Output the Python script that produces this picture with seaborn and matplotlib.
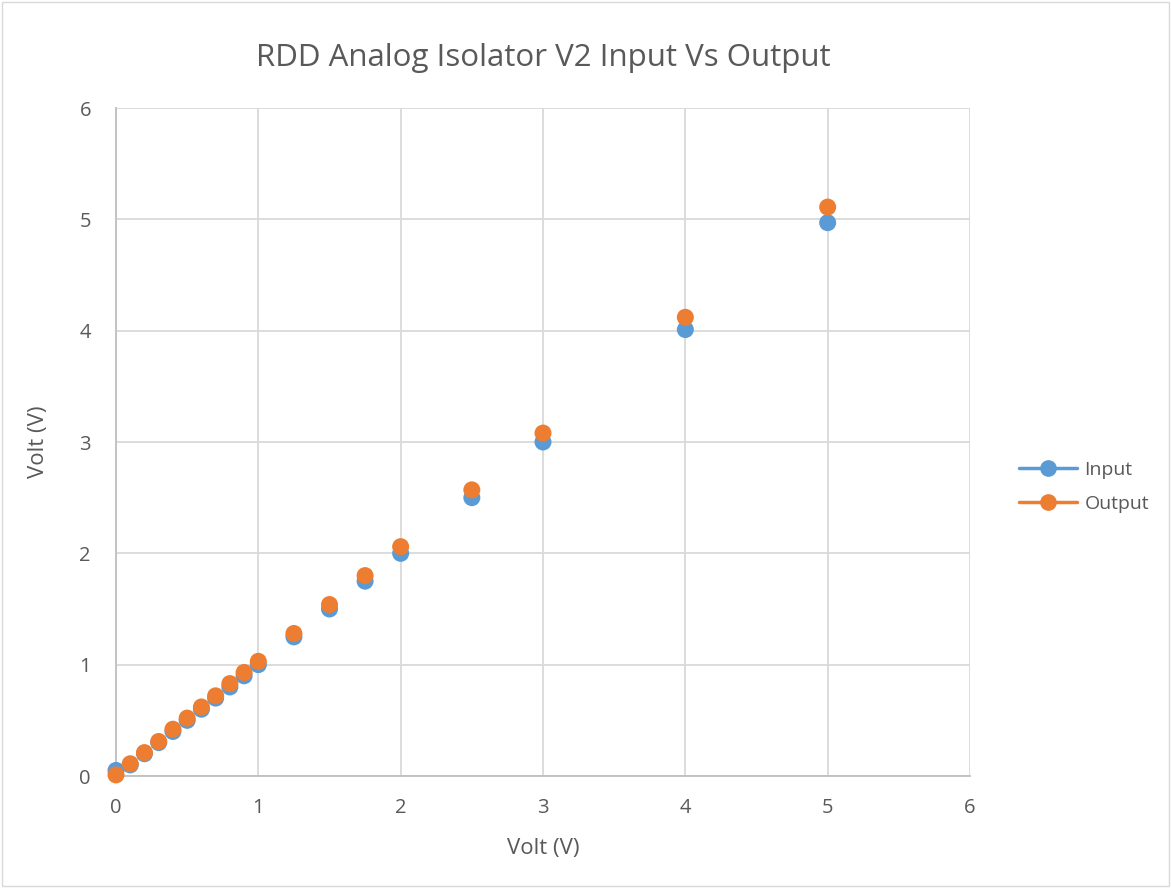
import seaborn as sns
import pandas as pd
import matplotlib.pyplot as plt
from matplotlib.lines import Line2D

# test points (V)
x_vals = [0, 0.1, 0.2, 0.3, 0.4, 0.5, 0.6, 0.7, 0.8, 0.9, 1.0,
          1.25, 1.5, 1.75, 2.0, 2.5, 3.0, 4.0, 5.0]
input_v = [0.05, 0.10, 0.20, 0.30, 0.40, 0.50, 0.60, 0.70, 0.80, 0.90, 1.00,
           1.25, 1.50, 1.75, 2.00, 2.50, 3.00, 4.01, 4.97]
output_v = [0.01, 0.11, 0.21, 0.31, 0.42, 0.52, 0.62, 0.72, 0.83, 0.93, 1.03,
            1.28, 1.54, 1.80, 2.06, 2.57, 3.08, 4.12, 5.11]
series = ["Input", "Output"]
colors = ["#5B9BD5", "#ED7D31"]

df = pd.concat([
    pd.DataFrame({"x": x_vals, "y": input_v, "series": "Input"}),
    pd.DataFrame({"x": x_vals, "y": output_v, "series": "Output"}),
])

sns.set_style("white")
plt.rcParams['font.family'] = ['Open Sans', 'DejaVu Sans']

fig = plt.figure(figsize=(11.71, 8.88), dpi=100)
ax = fig.add_axes([116 / 1171, 1 - 776 / 888, (970 - 116) / 1171, (776 - 108) / 888])

sns.scatterplot(data=df, x="x", y="y", hue="series", palette=colors,
                s=150, edgecolor="none", linewidth=0, legend=False, ax=ax, zorder=3,
                clip_on=False)

ax.set_xlim(0, 6)
ax.set_ylim(0, 6)
ax.set_xticks(range(7))
ax.set_yticks(range(7))
ax.grid(True, color="#d9d9d9", linewidth=1.3)
for s in ["top", "right"]:
    ax.spines[s].set_visible(False)
for s in ["left", "bottom"]:
    ax.spines[s].set_color("#bfbfbf")
    ax.spines[s].set_linewidth(1.3)
ax.tick_params(colors="#595959", labelsize=14.5, length=0)
ax.tick_params(axis="x", pad=16)
ax.tick_params(axis="y", pad=18)
ax.set_xlabel("Volt (V)", fontsize=16, color="#595959", labelpad=14)
ax.set_ylabel("Volt (V)", fontsize=16, color="#595959", labelpad=22)
ax.set_title("RDD Analog Isolator V2 Input Vs Output", fontsize=22.5,
             color="#595959", pad=30)

handles = [Line2D([0], [0], color=c, marker="o", markersize=11, linewidth=2.5)
           for c in colors]
fig.legend(handles, series, loc="center left", bbox_to_anchor=(1001 / 1171, 1 - 487 / 888),
           frameon=False, fontsize=14, labelcolor="#595959", handlelength=3,
           handletextpad=0.4, labelspacing=0.85)

fig.patches.append(plt.Rectangle((0.002, 0.002), 0.996, 0.996, transform=fig.transFigure,
                                 fill=False, edgecolor="#d9d9d9", linewidth=1))
fig.savefig("out.png", dpi=100)
